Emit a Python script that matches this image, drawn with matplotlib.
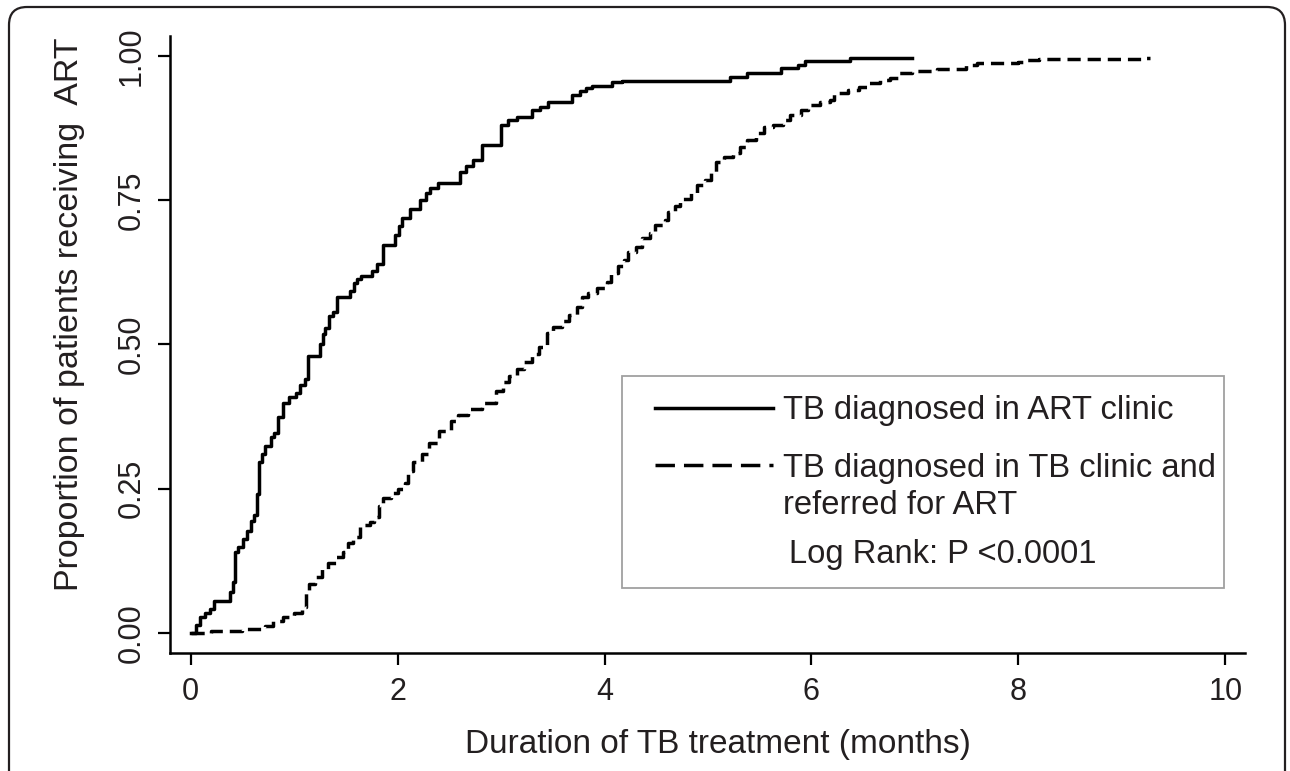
import matplotlib.pyplot as plt
from matplotlib.patches import FancyBboxPatch, Rectangle
from matplotlib.lines import Line2D

plt.rcParams['font.family'] = ['Liberation Sans', 'DejaVu Sans']

# cumulative proportion on ART (months)
art_t = [0, 0.05, 0.09, 0.14, 0.19, 0.23, 0.38, 0.41, 0.43, 0.46, 0.51, 0.54, 0.58, 0.61,
         0.64, 0.66, 0.69, 0.72, 0.78, 0.81, 0.84, 0.89, 0.95, 1.02, 1.06, 1.10, 1.13,
         1.25, 1.28, 1.30, 1.34, 1.38, 1.41, 1.54, 1.58, 1.61, 1.65, 1.75, 1.80, 1.86,
         1.97, 2.01, 2.04, 2.12, 2.22, 2.27, 2.31, 2.39, 2.60, 2.66, 2.73, 2.82, 3.00,
         3.07, 3.15, 3.30, 3.38, 3.45, 3.69, 3.76, 3.82, 3.88, 4.07, 4.17, 5.21, 5.38,
         5.71, 5.87, 5.94, 6.37, 6.97]
art_p = [0, 0.014, 0.028, 0.035, 0.042, 0.056, 0.07, 0.088, 0.141, 0.148, 0.162, 0.176,
         0.194, 0.204, 0.24, 0.296, 0.31, 0.324, 0.339, 0.346, 0.374, 0.399, 0.409, 0.416,
         0.43, 0.441, 0.48, 0.501, 0.518, 0.529, 0.55, 0.557, 0.582, 0.593, 0.606, 0.614,
         0.618, 0.628, 0.639, 0.672, 0.69, 0.705, 0.72, 0.735, 0.75, 0.762, 0.771, 0.78,
         0.80, 0.81, 0.82, 0.846, 0.88, 0.889, 0.894, 0.906, 0.912, 0.92, 0.932, 0.94,
         0.945, 0.948, 0.955, 0.957, 0.964, 0.971, 0.98, 0.984, 0.991, 0.997, 0.997]

tb_t = [0, 0.2, 0.5, 0.72, 0.8, 0.89, 1.0, 1.08, 1.11, 1.14, 1.2, 1.27, 1.33, 1.40, 1.47,
        1.52, 1.57, 1.64, 1.73, 1.77, 1.82, 1.86, 1.94, 2.0, 2.07, 2.10, 2.15, 2.24, 2.30,
        2.40, 2.52, 2.58, 2.68, 2.82, 2.95, 3.02, 3.08, 3.15, 3.22, 3.30, 3.37, 3.44, 3.50,
        3.59, 3.66, 3.73, 3.78, 3.84, 3.93, 4.02, 4.06, 4.13, 4.19, 4.23, 4.30, 4.36, 4.44,
        4.49, 4.58, 4.61, 4.68, 4.73, 4.84, 4.89, 4.97, 5.03, 5.08, 5.15, 5.24, 5.31, 5.38,
        5.46, 5.54, 5.63, 5.72, 5.79, 5.90, 5.97, 6.08, 6.18, 6.22, 6.35, 6.46, 6.55, 6.66,
        6.76, 6.85, 6.97, 7.21, 7.49, 7.60, 8.0, 8.05, 8.2, 9.22, 9.27]
tb_p = [0, 0.003, 0.006, 0.012, 0.02, 0.028, 0.035, 0.045, 0.07, 0.085, 0.097, 0.11, 0.121,
        0.132, 0.14, 0.156, 0.166, 0.187, 0.192, 0.20, 0.22, 0.234, 0.243, 0.25, 0.26, 0.28,
        0.296, 0.31, 0.33, 0.35, 0.367, 0.378, 0.388, 0.399, 0.42, 0.435, 0.445, 0.458, 0.47,
        0.483, 0.495, 0.52, 0.53, 0.54, 0.551, 0.565, 0.582, 0.589, 0.598, 0.608, 0.624,
        0.636, 0.647, 0.66, 0.669, 0.684, 0.693, 0.707, 0.716, 0.73, 0.74, 0.752, 0.763,
        0.776, 0.785, 0.80, 0.816, 0.825, 0.832, 0.842, 0.854, 0.866, 0.877, 0.88, 0.889,
        0.898, 0.906, 0.915, 0.92, 0.924, 0.937, 0.941, 0.946, 0.953, 0.958, 0.963, 0.97,
        0.975, 0.978, 0.985, 0.988, 0.99, 0.994, 0.995, 0.997, 0.997]

x_ticks = [0, 2, 4, 6, 8, 10]
y_ticks = [0, 0.25, 0.5, 0.75, 1.0]
y_ticklabels = ['0.00', '0.25', '0.50', '0.75', '1.00']
label_art = 'TB diagnosed in ART clinic'
label_tb = 'TB diagnosed in TB clinic and\nreferred for ART'
logrank_text = 'Log Rank: P <0.0001'

W, H = 1290, 771
fig = plt.figure(figsize=(W / 100, H / 100), dpi=100)
ax = fig.add_axes([170 / W, 1 - 653 / H, (1245 - 170) / W, (653 - 36) / H])

ax.step(art_t, art_p, where='post', color='black', lw=2.5)
ax.step(tb_t, tb_p, where='post', color='black', lw=2.5, linestyle=(0, (3.8, 2.0)))

ax.set_xlim(-0.2, 10.19)
ax.set_ylim(-0.035, 1.035)
ax.set_xticks(x_ticks)
ax.set_yticks(y_ticks)
ax.set_yticklabels(y_ticklabels, rotation=90, va='center')
for s in ['top', 'right']:
    ax.spines[s].set_visible(False)
for s in ['left', 'bottom']:
    ax.spines[s].set_linewidth(1.8)
ax.tick_params(length=8.6, width=1.6, labelsize=22, colors='black')
ax.tick_params(axis='x', pad=9)
ax.tick_params(axis='y', pad=8)
for lab in ax.get_xticklabels() + ax.get_yticklabels():
    lab.set_color('#231f20')

inch = fig.dpi_scale_trans
def p2i(x, y):
    # pixel from top-left -> inches from bottom-left
    return x / 100, (H - y) / 100

# axis labels
fig.text(*p2i(718, 744), 'Duration of TB treatment (months)', transform=inch,
         ha='center', va='center', fontsize=24, color='#231f20')
fig.text(*p2i(70, 314), 'Proportion of patients receiving  ART', transform=inch,
         ha='center', va='center', rotation=90, fontsize=24.5, color='#231f20')

# legend box drawn by hand
x0, y0 = p2i(622, 588)
fig.patches.append(Rectangle((x0, y0), 6.02, 2.12, transform=inch, fill=False,
                             edgecolor='#a0a0a0', lw=1.3))
fig.lines.append(Line2D([6.55, 7.73], [p2i(0, 408)[1]] * 2, transform=inch,
                        color='black', lw=2.5))
fig.lines.append(Line2D([6.55, 7.73], [p2i(0, 465)[1]] * 2, transform=inch,
                        color='black', lw=2.5, linestyle=(0, (5.6, 2.6))))
fig.text(*p2i(783, 411), label_art, transform=inch, ha='left', va='center',
         fontsize=23.6, color='#231f20')
fig.text(*p2i(783, 487), label_tb, transform=inch, ha='left', va='center',
         fontsize=23.6, color='#231f20', linespacing=1.28)
fig.text(*p2i(789, 554), logrank_text, transform=inch, ha='left', va='center',
         fontsize=23.6, color='#231f20')

# rounded outer frame, open at the bottom
fig.patches.append(FancyBboxPatch((0.09, -0.6), 12.76, 8.24, transform=inch,
                                  boxstyle='round,pad=0,rounding_size=0.18',
                                  fill=False, edgecolor='#231f20', lw=1.6))

fig.savefig('out.png', dpi=100)
